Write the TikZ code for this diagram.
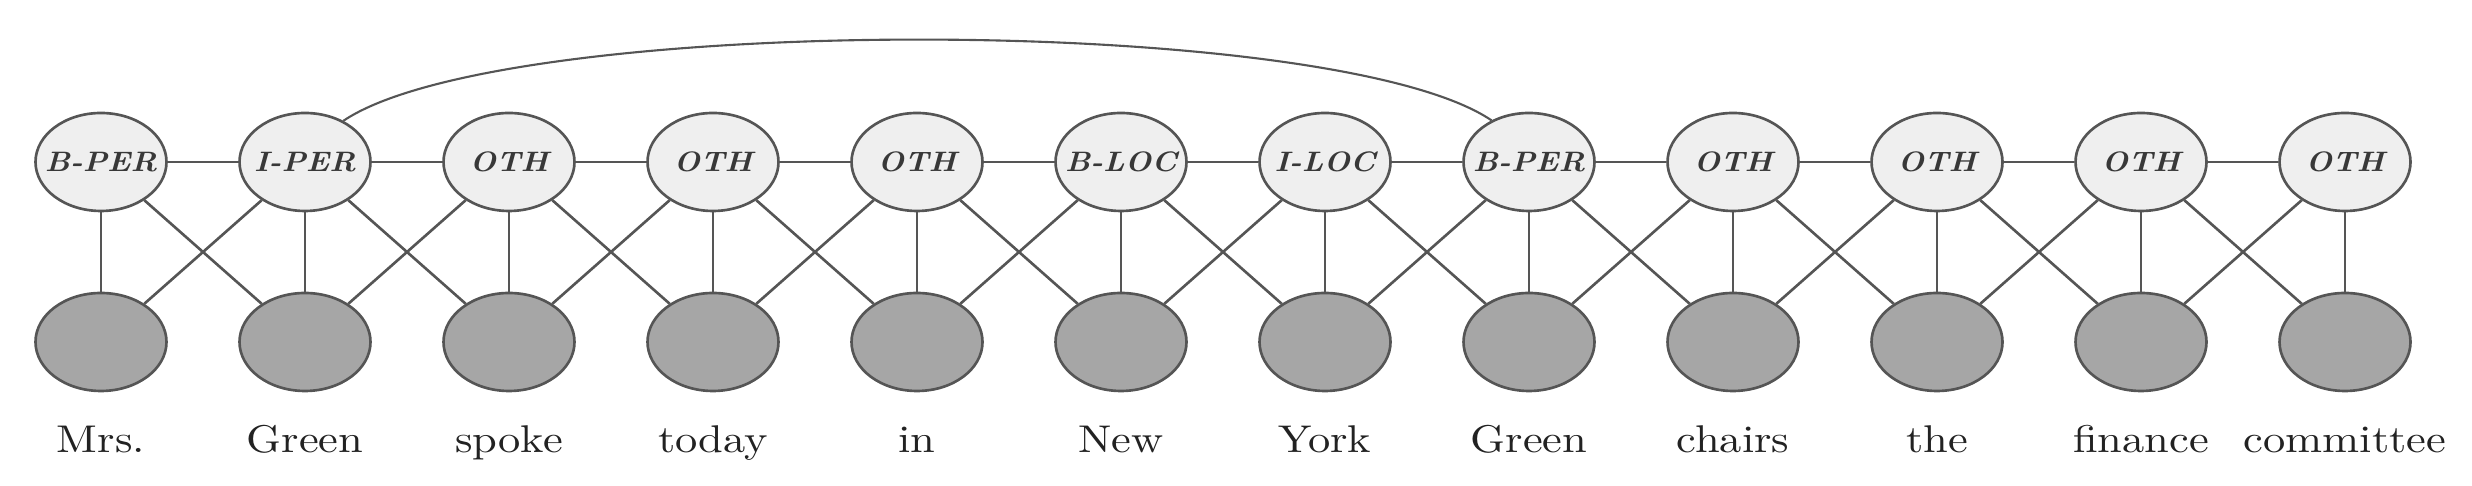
\documentclass[tikz,border=0pt]{standalone}
\usepackage{fontspec}
\usepackage{xcolor}
\usepackage{tikz}
\usetikzlibrary{positioning,shapes.geometric}
\newfontfamily\wordfont{Latin Modern Roman}[FakeStretch=1.15]
\newfontfamily\tagfont{Latin Modern Roman}[FakeStretch=1.1]
\definecolor{taglight}{HTML}{EFEFEF}
\definecolor{obsgray}{HTML}{A6A6A6}
\definecolor{linegray}{HTML}{555555}
\definecolor{wordink}{HTML}{222222}

\begin{document}
\begin{tikzpicture}[
    on grid,
    tag/.style={ellipse, draw=linegray, fill=taglight, line width=0.75pt,
        minimum width=1.31cm, minimum height=0.98cm, inner xsep=-0.12cm, inner ysep=0pt,
        font=\tagfont\fontsize{8}{9.5}\selectfont\bfseries\itshape, text=wordink!90},
    obs/.style={ellipse, draw=linegray, fill=obsgray, line width=0.75pt,
        minimum width=1.31cm, minimum height=0.98cm, inner sep=0pt},
    word/.style={inner sep=0pt, text height=0.26cm, text depth=0.06cm,
        font=\wordfont\fontsize{11}{13}\selectfont, text=wordink},
    link/.style={draw=linegray, line width=0.75pt}]
\useasboundingbox (0,0) rectangle (24.72,4.86);

% label row
\node[tag] (t1) at (1.01,3.24) {B-PER};
\node[tag, right=2.04cm of t1] (t2) {I-PER};
\node[tag, right=2.04cm of t2] (t3) {OTH};
\node[tag, right=2.04cm of t3] (t4) {OTH};
\node[tag, right=2.04cm of t4] (t5) {OTH};
\node[tag, right=2.04cm of t5] (t6) {B-LOC};
\node[tag, right=2.04cm of t6] (t7) {I-LOC};
\node[tag, right=2.04cm of t7] (t8) {B-PER};
\node[tag, right=2.04cm of t8] (t9) {OTH};
\node[tag, right=2.04cm of t9] (t10) {OTH};
\node[tag, right=2.04cm of t10] (t11) {OTH};
\node[tag, right=2.04cm of t11] (t12) {OTH};

% observation row
\node[obs, below=1.80cm of t1] (o1) {};
\node[obs, below=1.80cm of t2] (o2) {};
\node[obs, below=1.80cm of t3] (o3) {};
\node[obs, below=1.80cm of t4] (o4) {};
\node[obs, below=1.80cm of t5] (o5) {};
\node[obs, below=1.80cm of t6] (o6) {};
\node[obs, below=1.80cm of t7] (o7) {};
\node[obs, below=1.80cm of t8] (o8) {};
\node[obs, below=1.80cm of t9] (o9) {};
\node[obs, below=1.80cm of t10] (o10) {};
\node[obs, below=1.80cm of t11] (o11) {};
\node[obs, below=1.80cm of t12] (o12) {};

% words
\node[word, below=1.01cm of o1] (w1) {Mrs.};
\node[word, below=1.01cm of o2] (w2) {Green};
\node[word, below=1.01cm of o3] (w3) {spoke};
\node[word, below=1.01cm of o4] (w4) {today};
\node[word, below=1.01cm of o5] (w5) {in};
\node[word, below=1.01cm of o6] (w6) {New};
\node[word, below=1.01cm of o7] (w7) {York};
\node[word, below=1.01cm of o8] (w8) {Green};
\node[word, below=1.01cm of o9] (w9) {chairs};
\node[word, below=1.01cm of o10] (w10) {the};
\node[word, below=1.01cm of o11] (w11) {finance};
\node[word, below=1.01cm of o12] (w12) {committee};

% chain
\path[link] (t1) -- (t2) (t2) -- (t3) (t3) -- (t4) (t4) -- (t5) (t5) -- (t6) (t6) -- (t7)
    (t7) -- (t8) (t8) -- (t9) (t9) -- (t10) (t10) -- (t11) (t11) -- (t12);
% vertical links
\path[link] (t1) -- (o1) (t2) -- (o2) (t3) -- (o3) (t4) -- (o4) (t5) -- (o5) (t6) -- (o6)
    (t7) -- (o7) (t8) -- (o8) (t9) -- (o9) (t10) -- (o10) (t11) -- (o11) (t12) -- (o12);
% crossing links
\path[link] (t1) -- (o2) (t2) -- (o1) (t2) -- (o3) (t3) -- (o2) (t3) -- (o4) (t4) -- (o3)
    (t4) -- (o5) (t5) -- (o4) (t5) -- (o6) (t6) -- (o5) (t6) -- (o7) (t7) -- (o6)
    (t7) -- (o8) (t8) -- (o7) (t8) -- (o9) (t9) -- (o8) (t9) -- (o10) (t10) -- (o9)
    (t10) -- (o11) (t11) -- (o10) (t11) -- (o12) (t12) -- (o11);
% skip link
\path[link, line width=0.6pt] (t2.47) .. controls +(1.6,1.08) and +(-1.6,1.08) .. (t8.132);

\end{tikzpicture}
\end{document}
